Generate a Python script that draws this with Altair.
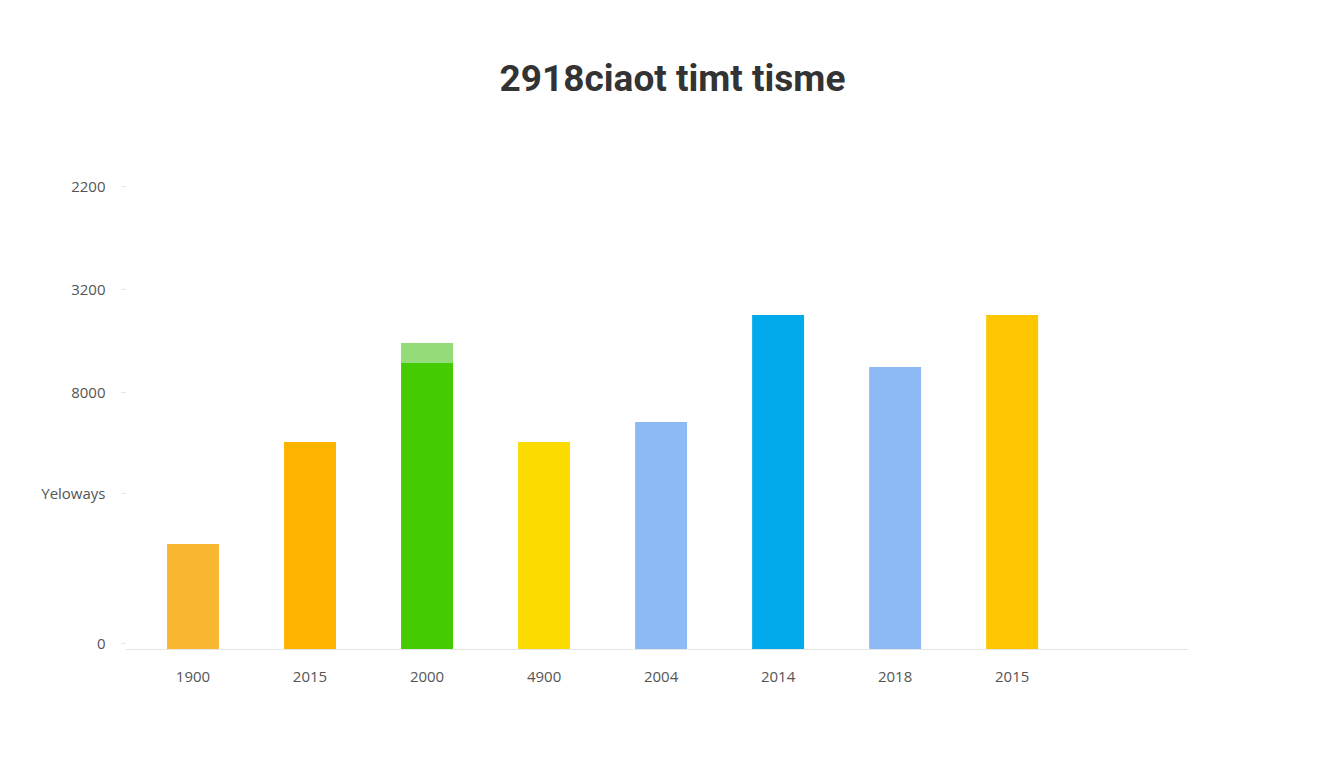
import altair as alt
import pandas as pd

# x categories (displayed labels, duplicates allowed)
x_labels = ["1900", "2015", "2000", "4900", "2004", "2014", "2018", "2015"]
# bar heights (arbitrary linear units)
values = [1050, 2070, 2860, 2070, 2270, 3340, 2820, 3340]
colors = ["#F9B630", "#FDB300", "#44CC00", "#FCDB00", "#8DB9F5", "#00AAEB", "#8DB9F5", "#FDC600"]

# extra light-green cap on the third bar
cap_index = [2]
cap_base = [2860]
cap_top = [3060]
cap_color = ["#94DC7A"]

# y axis ticks and their (odd) labels
y_ticks = [60, 1560, 2570, 3600, 4630]
y_tick_labels = ["0", "Yeloways", "8000", "3200", "2200"]

df = pd.DataFrame({"idx": list(range(len(values))), "value": values, "color": colors})
cap_df = pd.DataFrame({"idx": cap_index, "base": cap_base, "top": cap_top, "color": cap_color})

x_label_expr = "[" + ",".join(f"'{l}'" for l in x_labels) + "][datum.value]"
y_map = "{" + ",".join(f"'{v}':'{l}'" for v, l in zip(y_ticks, y_tick_labels)) + "}"
y_label_expr = f"{y_map}[''+datum.value]"

x_scale = alt.Scale(domain=list(range(len(values))), paddingInner=0.556, paddingOuter=0.82, align=0.219)
y_scale = alt.Scale(domain=[0, 4630], nice=False, zero=True)

bars = alt.Chart(df).mark_bar().encode(
    x=alt.X("idx:O", scale=x_scale, title=None,
            axis=alt.Axis(labelExpr=x_label_expr, labelAngle=0, ticks=False,
                          domainColor="#E6E6E6", domainWidth=1.2,
                          labelColor="#555555", labelFontSize=15, labelPadding=20,
                          labelFont="Open Sans")),
    y=alt.Y("value:Q", scale=y_scale, title=None,
            axis=alt.Axis(values=y_ticks, labelExpr=y_label_expr, domain=False, grid=False,
                          tickColor="#E2E2E2", tickSize=4, labelPadding=16,
                          labelColor="#555555", labelFontSize=15, labelFont="Open Sans")),
    color=alt.Color("color:N", scale=None),
)

cap = alt.Chart(cap_df).mark_bar().encode(
    x=alt.X("idx:O", scale=x_scale),
    y=alt.Y("base:Q", scale=y_scale),
    y2="top:Q",
    color=alt.Color("color:N", scale=None),
)

chart = alt.layer(bars, cap).properties(
    width=1063,
    height=463,
    background="white",
    title=alt.TitleParams("2918ciaot timt tisme", fontSize=37, font="Roboto", fontWeight="bold",
                          color="#333333", anchor="middle", dx=16, offset=80),
    padding={"left": 117, "top": 178, "right": 140, "bottom": 100},
    autosize=alt.AutoSizeParams(type="none"),
).configure_view(stroke="transparent", strokeWidth=0)

chart.save("out.html", embed_options={"renderer": "svg", "actions": False})
